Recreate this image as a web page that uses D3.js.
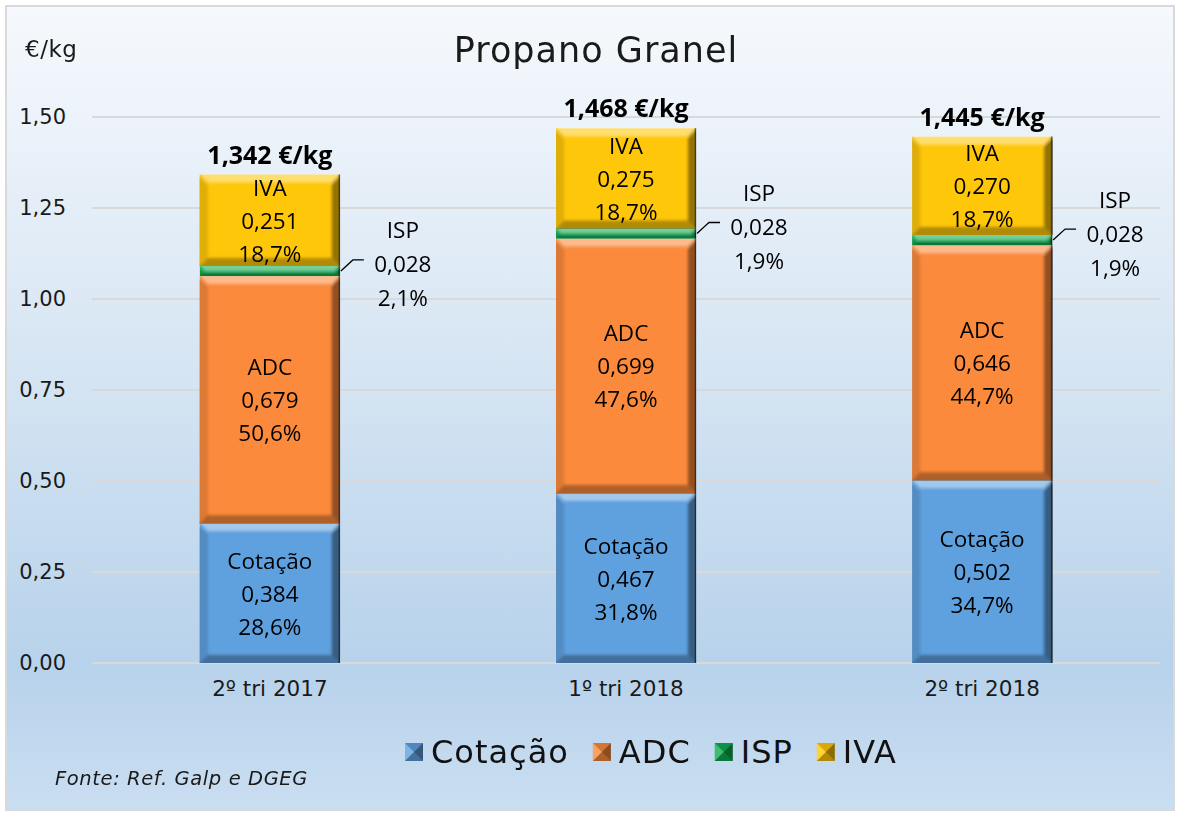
<!DOCTYPE html>
<html lang="pt">
<head>
<meta charset="utf-8">
<title>Propano Granel</title>
<script src="https://d3js.org/d3.v7.min.js"></script>
<style>
  body { margin: 0; background: #fff; }
  svg { display: block; }
  .tick-lbl { font-family: "DejaVu Sans", sans-serif; font-size: 21px; fill: #1a1a1a; }
  .seg-lbl { font-family: "Open Sans", sans-serif; font-size: 22.5px; fill: #000; }
  .tot-lbl { font-family: "Open Sans", sans-serif; font-size: 25px; font-weight: bold; fill: #000; }
</style>
</head>
<body>
<svg id="chart" width="1180" height="814"></svg>
<script>
// données
const periodos = ["2º tri 2017", "1º tri 2018", "2º tri 2018"];
const series = ["Cotação", "ADC", "ISP", "IVA"];
const cotacao = [0.384, 0.467, 0.502];
const adc = [0.679, 0.699, 0.646];
const isp = [0.028, 0.028, 0.028];
const iva = [0.251, 0.275, 0.270];
const totais = ["1,342 €/kg", "1,468 €/kg", "1,445 €/kg"];
const pctCotacao = ["28,6%", "31,8%", "34,7%"];
const pctAdc = ["50,6%", "47,6%", "44,7%"];
const pctIsp = ["2,1%", "1,9%", "1,9%"];
const pctIva = ["18,7%", "18,7%", "18,7%"];
const yTicks = [0, 0.25, 0.5, 0.75, 1.0, 1.25, 1.5];

const cores = { "Cotação": "#5fa0de", "ADC": "#fb8a3c", "ISP": "#0fae50", "IVA": "#ffc70a" };

const W = 1180, H = 814;
const margin = { top: 117, right: 20, bottom: 151, left: 92 };
const innerW = W - margin.left - margin.right;
const innerH = H - margin.top - margin.bottom;

const svg = d3.select("#chart");

// fond dégradé
const defs = svg.append("defs");
const grad = defs.append("linearGradient").attr("id", "bg").attr("x1", 0).attr("y1", 0).attr("x2", 0).attr("y2", 1);
grad.append("stop").attr("offset", "0%").attr("stop-color", "#f6f9fd");
grad.append("stop").attr("offset", "45%").attr("stop-color", "#d6e5f3");
grad.append("stop").attr("offset", "82%").attr("stop-color", "#b7d2eb");
grad.append("stop").attr("offset", "100%").attr("stop-color", "#cadef1");
defs.append("filter").attr("id", "soft").attr("x", "-5%").attr("y", "-5%").attr("width", "110%").attr("height", "110%")
  .append("feGaussianBlur").attr("stdDeviation", 1.6);

svg.append("rect").attr("x", 0).attr("y", 0).attr("width", W).attr("height", H).attr("fill", "#fff");
svg.append("rect").attr("x", 6).attr("y", 6).attr("width", W - 12).attr("height", H - 10)
  .attr("fill", "url(#bg)").attr("stroke", "#d9d9d9").attr("stroke-width", 2);

const g = svg.append("g").attr("transform", `translate(${margin.left},${margin.top})`);

const x = d3.scaleBand().domain(periodos).range([0, innerW]).paddingInner(0.607).paddingOuter(0.303);
const y = d3.scaleLinear().domain([0, 1.5]).range([innerH, 0]);

// grille
g.selectAll("line.grid").data(yTicks).enter().append("line")
  .attr("x1", 0).attr("x2", innerW)
  .attr("y1", d => y(d)).attr("y2", d => y(d))
  .attr("stroke", "#d9d9d9").attr("stroke-width", 2);

// axe Y (texte seulement)
const yAxis = g.append("g").call(d3.axisLeft(y).tickValues(yTicks).tickSize(0).tickPadding(26)
  .tickFormat(d => d3.format(".2f")(d).replace(".", ",")));
yAxis.select(".domain").remove();
yAxis.selectAll("text").attr("class", "tick-lbl").attr("font-family", null).attr("font-size", null);

// axe X
const xAxis = g.append("g").attr("transform", `translate(0,${innerH})`)
  .call(d3.axisBottom(x).tickSize(0).tickPadding(18));
xAxis.select(".domain").remove();
xAxis.selectAll("text").attr("class", "tick-lbl").attr("font-family", null).attr("font-size", null)
  .style("font-size", "21.5px");

// empilement
const rows = periodos.map((p, i) => ({ periodo: p, "Cotação": cotacao[i], "ADC": adc[i], "ISP": isp[i], "IVA": iva[i] }));
const pcts = { "Cotação": pctCotacao, "ADC": pctAdc, "ISP": pctIsp, "IVA": pctIva };
const stack = d3.stack().keys(series)(rows);

let clipId = 0;
function bevel(sel, x0, y0, w, h) {
  const b = Math.min(8, h / 2);
  const id = "clip" + (clipId++);
  defs.append("clipPath").attr("id", id).append("rect").attr("x", x0).attr("y", y0).attr("width", w).attr("height", h);
  const bg = sel.append("g").attr("clip-path", `url(#${id})`).append("g").attr("filter", "url(#soft)");
  const pts = [
    [[x0 - 4, y0 - 4], [x0 + w + 4, y0 - 4], [x0 + w - b, y0 + b], [x0 + b, y0 + b], "#fff", 0.42],
    [[x0 - 4, y0 - 4], [x0 + b, y0 + b], [x0 + b, y0 + h - b], [x0 - 4, y0 + h + 4], "#000", 0.12],
    [[x0 + w + 4, y0 - 4], [x0 + w + 4, y0 + h + 4], [x0 + w - b, y0 + h - b], [x0 + w - b, y0 + b], "#000", 0.42],
    [[x0 - 4, y0 + h + 4], [x0 + b, y0 + h - b], [x0 + w - b, y0 + h - b], [x0 + w + 4, y0 + h + 4], "#000", 0.3]
  ];
  pts.forEach(p => {
    bg.append("polygon").attr("points", p.slice(0, 4).map(q => q.join(",")).join(" "))
      .attr("fill", p[4]).attr("opacity", p[5]);
  });
  sel.append("line").attr("x1", x0 + w - 0.5).attr("x2", x0 + w - 0.5).attr("y1", y0).attr("y2", y0 + h)
    .attr("stroke", "#000").attr("stroke-opacity", 0.5).attr("stroke-width", 1.5);
}

stack.forEach(layer => {
  const key = layer.key;
  layer.forEach((d, i) => {
    const x0 = x(d.data.periodo), w = x.bandwidth();
    const y0 = y(d[1]), h = y(d[0]) - y(d[1]);
    const seg = g.append("g");
    seg.append("rect").attr("x", x0).attr("y", y0).attr("width", w).attr("height", h).attr("fill", cores[key]);
    bevel(seg, x0, y0, w, h);

    const val = d3.format(".3f")(d[1] - d[0]).replace(".", ",");
    const linhas = [key, val, pcts[key][i]];
    if (key === "ISP") {
      const cy = (y0 + y0 + h) / 2;
      const lx = x0 + w + 63;
      const ly = cy - 7;
      g.append("polyline")
        .attr("points", `${x0 + w + 1},${cy} ${x0 + w + 13},${ly - 4} ${x0 + w + 24},${ly - 4}`)
        .attr("fill", "none").attr("stroke", "#000").attr("stroke-width", 1.3);
      linhas.forEach((t, k) => {
        g.append("text").attr("class", "seg-lbl").attr("x", lx).attr("y", ly + (k - 1) * 34)
          .attr("text-anchor", "middle").attr("dominant-baseline", "central").text(t);
      });
    } else {
      const cy = y0 + h / 2;
      linhas.forEach((t, k) => {
        g.append("text").attr("class", "seg-lbl").attr("x", x0 + w / 2).attr("y", cy + (k - 1) * 33)
          .attr("text-anchor", "middle").attr("dominant-baseline", "central").text(t);
      });
    }
  });
});

// totaux
const topo = stack[stack.length - 1];
topo.forEach((d, i) => {
  g.append("text").attr("class", "tot-lbl")
    .attr("x", x(d.data.periodo) + x.bandwidth() / 2).attr("y", y(d[1]) - 21)
    .attr("text-anchor", "middle").attr("dominant-baseline", "central").text(totais[i]);
});

// titre et unité
svg.append("text").attr("x", 596).attr("y", 50).attr("text-anchor", "middle").attr("dominant-baseline", "central")
  .attr("font-family", "DejaVu Sans, sans-serif").attr("font-size", 35).attr("letter-spacing", 1)
  .attr("fill", "#1a1a1a").text("Propano Granel");
svg.append("text").attr("x", 25).attr("y", 49).attr("dominant-baseline", "central")
  .attr("font-family", "DejaVu Sans, sans-serif").attr("font-size", 23).attr("letter-spacing", 0.5)
  .attr("fill", "#1a1a1a").text("€/kg");

// légende
const leg = svg.append("g");
let lx = 405;
series.forEach(s => {
  const m = leg.append("g");
  const s0 = 18, mx = lx, my = 743;
  m.append("rect").attr("x", mx).attr("y", my).attr("width", s0).attr("height", s0).attr("fill", cores[s]);
  const c = [mx + s0 / 2, my + s0 / 2];
  [[[mx, my], [mx + s0, my], "#000", 0.15], [[mx, my], [mx, my + s0], "#fff", 0.2],
   [[mx + s0, my], [mx + s0, my + s0], "#000", 0.45], [[mx, my + s0], [mx + s0, my + s0], "#000", 0.3]]
    .forEach(t => {
      m.append("polygon").attr("points", [t[0], t[1], c].map(q => q.join(",")).join(" "))
        .attr("fill", t[2]).attr("opacity", t[3]);
    });
  const txt = leg.append("text").attr("x", lx + 26).attr("y", my + 9).attr("dominant-baseline", "central")
    .attr("font-family", "DejaVu Sans, sans-serif").attr("font-size", 32).attr("letter-spacing", 1)
    .attr("fill", "#111").text(s);
  lx += 26 + txt.node().getComputedTextLength() + 24;
});

// source
svg.append("text").attr("x", 55).attr("y", 778).attr("dominant-baseline", "central")
  .attr("font-family", "DejaVu Sans, sans-serif").attr("font-size", 19.5).attr("font-style", "italic")
  .attr("letter-spacing", 0.6).attr("fill", "#1a1a1a").text("Fonte: Ref. Galp e DGEG");
</script>
</body>
</html>
